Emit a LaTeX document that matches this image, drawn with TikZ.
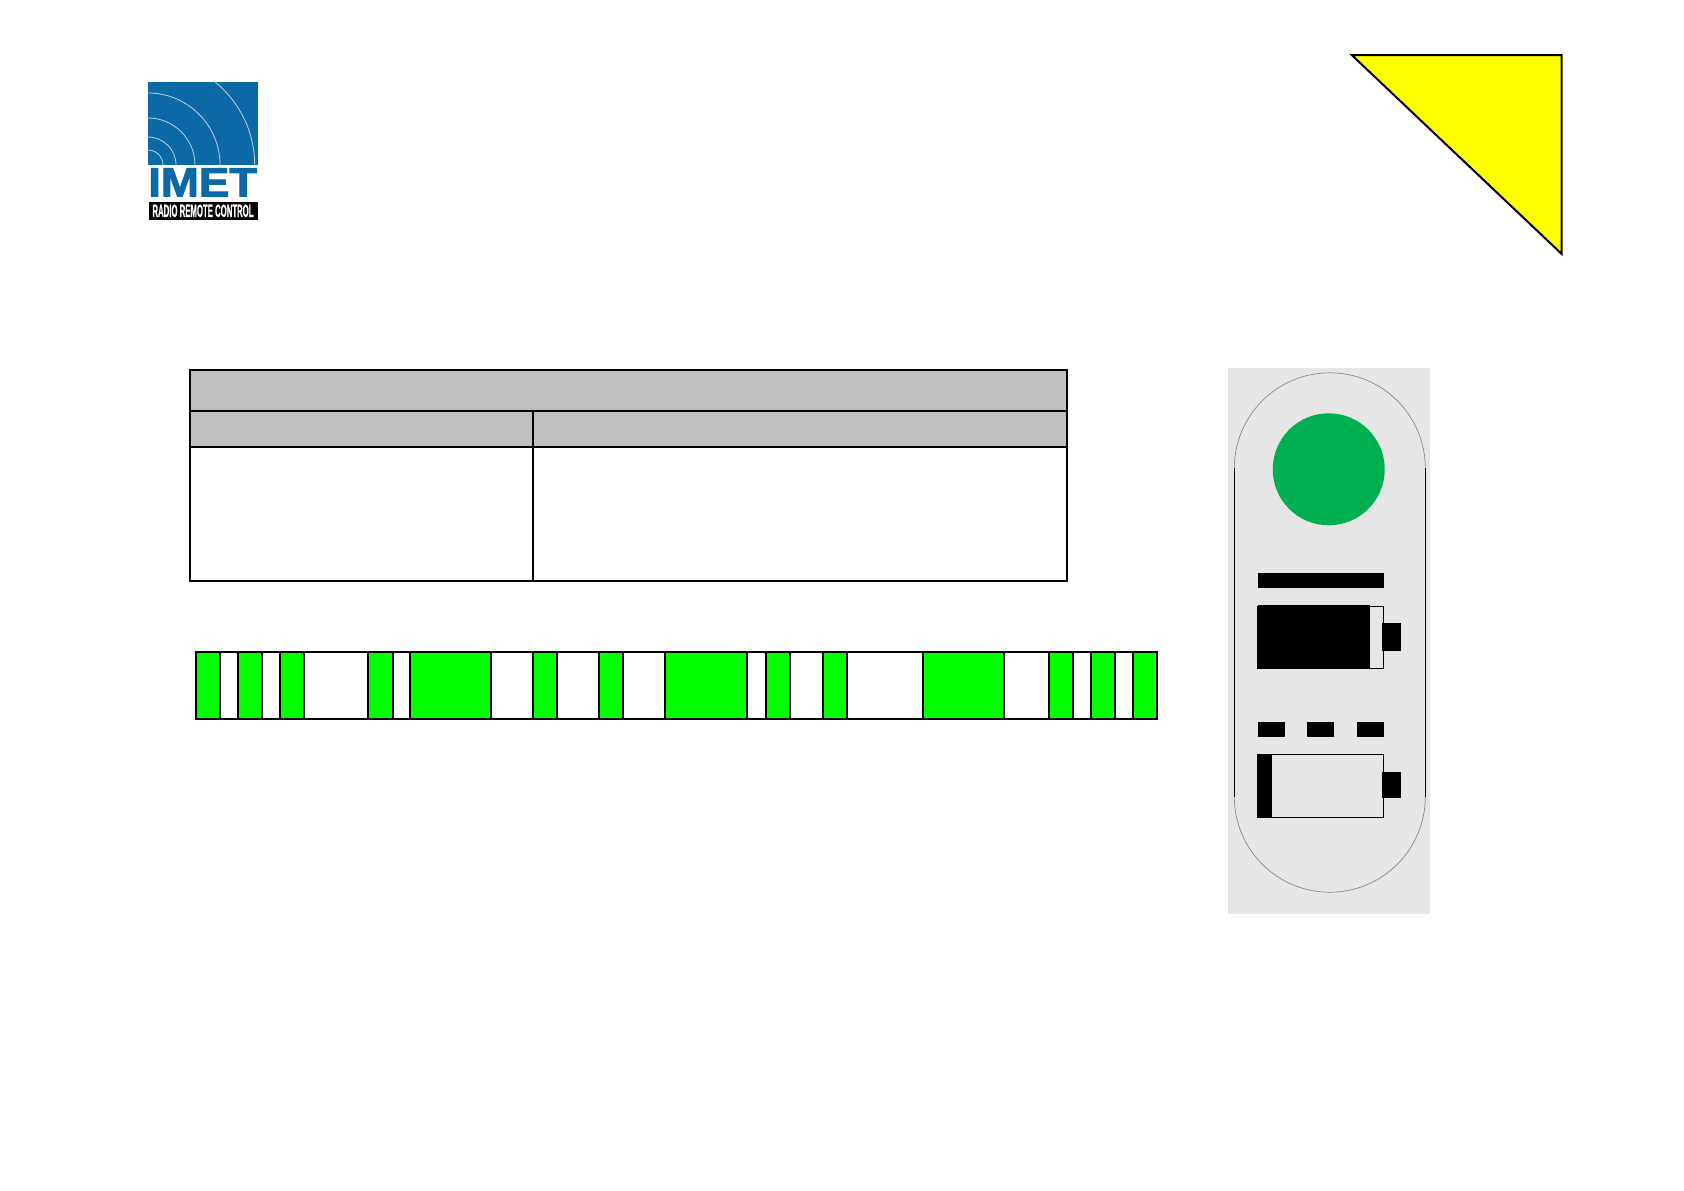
\documentclass[tikz,border=0pt]{standalone}
\usepackage{graphicx}
\usepackage{fontspec}
\setmainfont{Liberation Sans}
\newfontfamily\logoheavy[FakeBold=2.2]{Liberation Sans Bold}
\newfontfamily\logotagfont[FakeBold=1]{Liberation Sans Bold}
\definecolor{logoblue}{HTML}{0B6AA6}
\definecolor{tablegray}{HTML}{C0C0C0}
\definecolor{barcodegreen}{HTML}{00FF00}
\definecolor{panelgray}{HTML}{E6E6E6}
\definecolor{ledgreen}{HTML}{00B050}
\definecolor{archgray}{HTML}{8C8C8C}
\definecolor{warnyellow}{HTML}{FFFF00}
\tikzset{
  tableline/.style={draw=black,line width=1pt},
  headcell/.style={tableline,fill=tablegray},
  stripcell/.style={draw=black,line width=0.85pt,fill=barcodegreen},
  solidblack/.style={fill=black},
  batteryoutline/.style={draw=black,line width=0.45pt},
  logoarc/.style={draw=white!70!logoblue,line width=0.4pt}
}
\begin{document}
\begin{tikzpicture}[x=0.5pt,y=-0.5pt]
\useasboundingbox (0,0) rectangle (1684,1190);
\fill[white] (0,0) rectangle (1684,1190);

% logo
\fill[logoblue] (148,82) rectangle (257.5,165);
\begin{scope}
  \clip (148,82) rectangle (257.5,165);
  \foreach \r in {15,28,47,72,106.7}{
    \draw[logoarc] (148+\r,165) arc[start angle=0,end angle=-90,radius=\r];
  }
\end{scope}
\node[anchor=center,inner sep=0pt,text=logoblue] (logoname) at (202.7,182.3)
  {\resizebox{54.5pt}{14pt}{\logoheavy IMET}};
\fill[black] (148.5,201.5) rectangle (258,220);
\node[anchor=center,inner sep=0pt,text=white] (logotag) at (203,210.8)
  {\resizebox{50.5pt}{6.2pt}{\logotagfont RADIO REMOTE CONTROL}};

% warning triangle
\draw[draw=black,line width=1pt,fill=warnyellow,line join=miter] (1351.7,55) -- (1561.7,55) -- (1561.7,254) -- cycle;

% table
\fill[white] (190,370) rectangle (1066.7,580.7);
\draw[headcell] (190,370) rectangle (1066.7,410.7);
\draw[headcell] (190,410.7) rectangle (532.7,446.7);
\draw[headcell] (532.7,410.7) rectangle (1066.7,446.7);
\draw[tableline] (190,446.7) rectangle (532.7,580.7);
\draw[tableline] (532.7,446.7) rectangle (1066.7,580.7);

% strip
\draw[draw=black,line width=0.85pt,fill=white] (195.7,651.7) rectangle (1157.3,718.7);
\foreach \a/\b in {195.7/220,238/262,280/304,367.7/393.3,410/491,532.7/557,598.7/623,664.7/746.7,766/790,822.7/847,922.7/1004,1049/1073,1091/1115,1133/1157.3}{
  \draw[stripcell] (\a,651.7) rectangle (\b,718.7);
}

% device panel
\fill[panelgray] (1228,368) rectangle (1430,914);
\draw[draw=archgray,line width=0.35pt] (1234.3,468.3) arc[start angle=180,end angle=360,radius=95.5];
\draw[draw=archgray,line width=0.35pt] (1425.3,796.7) arc[start angle=0,end angle=180,radius=95.5];
\draw[draw=black,line width=0.5pt] (1234.3,468.3) -- (1234.3,796.7);
\draw[draw=black,line width=0.5pt] (1425.3,468.3) -- (1425.3,796.7);
\fill[ledgreen] (1328.7,469.3) circle[radius=56];
\fill[solidblack] (1257.8,573.3) rectangle (1384,588);

% full battery
\draw[batteryoutline] (1257.8,606.3) rectangle (1383.3,668.4);
\fill[solidblack] (1257.8,604.7) rectangle (1370,668.7);
\fill[solidblack] (1382.3,623) rectangle (1401,651);

% dashes
\fill[solidblack] (1257.8,722.3) rectangle (1284.7,737);
\fill[solidblack] (1307.3,722.3) rectangle (1334,737);
\fill[solidblack] (1356.7,722.3) rectangle (1383.7,737);

% low battery
\draw[batteryoutline] (1257.8,754.3) rectangle (1383.3,817.3);
\fill[solidblack] (1257.8,753.7) rectangle (1272,817.7);
\fill[solidblack] (1382.3,772) rectangle (1401,798);
\end{tikzpicture}
\end{document}
